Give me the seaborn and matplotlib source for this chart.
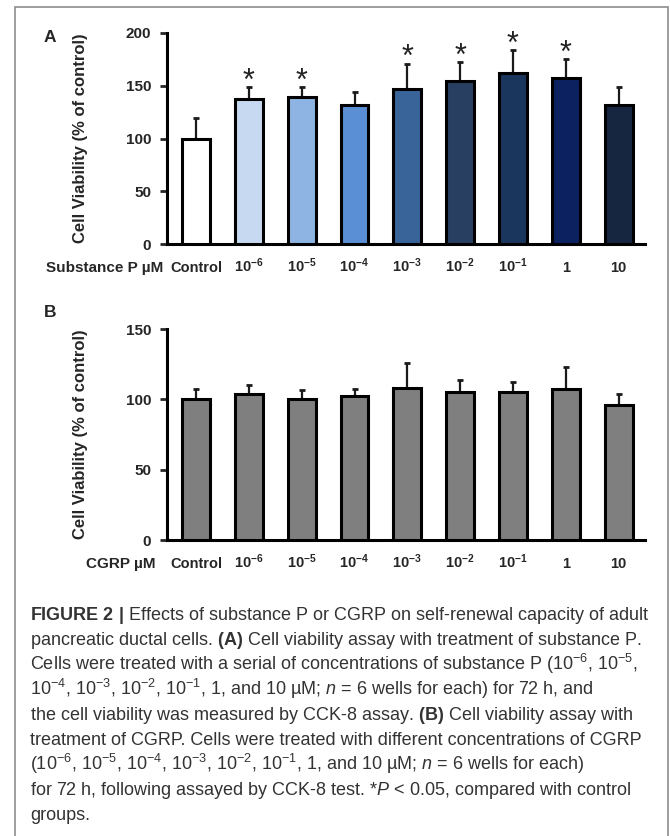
import numpy as np
import pandas as pd
import matplotlib
matplotlib.use("Agg")
import matplotlib.pyplot as plt
import matplotlib.transforms as mtransforms
from matplotlib.patches import Rectangle
import seaborn as sns

# ── Data ───────────────────────────────────────────────────────
doses = ["Control", "1e-6", "1e-5", "1e-4", "1e-3", "1e-2", "1e-1", "1", "10"]
dose_labels = ["Control", r"10$^{\mathbf{-6}}$", r"10$^{\mathbf{-5}}$", r"10$^{\mathbf{-4}}$",
               r"10$^{\mathbf{-3}}$", r"10$^{\mathbf{-2}}$", r"10$^{\mathbf{-1}}$", "1", "10"]

sp_mean = [100, 137, 139, 132, 146.5, 154.5, 162, 157.5, 132]
sp_sd   = [19, 12, 10, 12.5, 24.5, 18, 22, 18, 17]
sp_sig  = [False, True, True, False, True, True, True, True, False]
sp_colors = ["#ffffff", "#c6d9f0", "#8db4e2", "#5a8fd6", "#38649a",
             "#283f62", "#1b365d", "#0c2160", "#172640"]

cgrp_mean = [100, 103.5, 100.5, 102.5, 108, 105, 105.5, 107, 96]
cgrp_sd   = [7, 6.5, 6, 4.5, 17.5, 8.5, 7, 16, 8]
cgrp_colors = ["#7f7f7f"] * len(doses)

caption_lines = [
    r"$\mathbf{FIGURE\ 2\ |}$ Effects of substance P or CGRP on self-renewal capacity of adult",
    r"pancreatic ductal cells. $\mathbf{(A)}$ Cell viability assay with treatment of substance P.",
    r"Cells were treated with a serial of concentrations of substance P (10$^{-6}$, 10$^{-5}$,",
    r"10$^{-4}$, 10$^{-3}$, 10$^{-2}$, 10$^{-1}$, 1, and 10 µM; $n$ = 6 wells for each) for 72 h, and",
    r"the cell viability was measured by CCK-8 assay. $\mathbf{(B)}$ Cell viability assay with",
    r"treatment of CGRP. Cells were treated with different concentrations of CGRP",
    r"(10$^{-6}$, 10$^{-5}$, 10$^{-4}$, 10$^{-3}$, 10$^{-2}$, 10$^{-1}$, 1, and 10 µM; $n$ = 6 wells for each)",
    r"for 72 h, following assayed by CCK-8 test. *$P$ < 0.05, compared with control",
    r"groups.",
]

# ── Style ──────────────────────────────────────────────────────
sns.set_theme(style="white")
plt.rcParams.update({
    "font.family": ["Liberation Sans", "DejaVu Sans"],
    "mathtext.fontset": "custom",
    "mathtext.rm": "Liberation Sans",
    "mathtext.it": "Liberation Sans:italic",
    "mathtext.bf": "Liberation Sans:bold",
    "axes.edgecolor": "black",
})

W, H = 670, 836
fig = plt.figure(figsize=(W / 100, H / 100), dpi=100)
fig.patch.set_facecolor("white")


def px_axes(left, top, right, bottom):
    return fig.add_axes([left / W, 1 - bottom / H, (right - left) / W, (bottom - top) / H])


def panel(ax, mean, sd, colors, ymax, unit_label, unit_right):
    df = pd.DataFrame({"dose": doses, "viability": mean})
    sns.barplot(data=df, x="dose", y="viability", hue="dose", order=doses,
                palette=colors, saturation=1, legend=False, errorbar=None, width=0.53,
                edgecolor="black", linewidth=2.2, ax=ax, zorder=3)
    centers = [p.get_x() + p.get_width() / 2 for p in ax.patches]
    ax.errorbar(centers, mean, yerr=[np.zeros(len(sd)), sd], fmt="none",
                ecolor="#1a1a1a", elinewidth=1.6, capsize=2.5, capthick=2, zorder=2)
    ax.set_xlim(-0.55, 8.5)
    ax.set_ylim(0, ymax)
    ax.set_yticks(np.arange(0, ymax + 1, 50))
    ax.set_xticks(range(len(doses)))
    ax.set_xticklabels(dose_labels, fontsize=10.5, fontweight="bold")
    for lbl in ax.get_xticklabels():
        lbl.set_va("baseline")
    ax.tick_params(axis="x", length=0, pad=20)
    ax.tick_params(axis="y", direction="out", length=5, width=2, pad=6.5,
                   labelsize=11, left=True)
    for lbl in ax.get_yticklabels():
        lbl.set_fontweight("bold")
    for s in ["top", "right"]:
        ax.spines[s].set_visible(False)
    for s in ["left", "bottom"]:
        ax.spines[s].set_linewidth(2.2)
        ax.spines[s].set_color("black")
    ax.set_xlabel("")
    ax.set_ylabel("Cell Viability (% of control)", fontsize=12, fontweight="bold")
    ax.yaxis.set_label_coords(-0.165, 0.5)
    tr = mtransforms.offset_copy(ax.transAxes, fig=fig, y=-20, units="points")
    ax.text((unit_right - 167) / 478, 0, unit_label, transform=tr, ha="right",
            va="baseline", fontsize=11, fontweight="bold")
    ax.set_facecolor("none")
    return centers


# ── Panel A: substance P ──────────────────────────────────────
ax_a = px_axes(167, 33, 645, 244)
centers = panel(ax_a, sp_mean, sp_sd, sp_colors, 200, "Substance P µM", 163)
for xc, m, s, sig in zip(centers, sp_mean, sp_sd, sp_sig):
    if sig:
        ax_a.annotate("*", (xc, m + s), xytext=(0, -2), textcoords="offset points",
                      ha="center", va="baseline", fontsize=22, color="#222222")

# ── Panel B: CGRP ─────────────────────────────────────────────
ax_b = px_axes(167, 329, 645, 540)
panel(ax_b, cgrp_mean, cgrp_sd, cgrp_colors, 150, "CGRP µM", 156)

# panel letters
fig.text(44 / W, 1 - 42 / H, "A", fontsize=12.5, fontweight="bold", va="baseline")
fig.text(44 / W, 1 - 317 / H, "B", fontsize=12.5, fontweight="bold", va="baseline")

# ── Caption ───────────────────────────────────────────────────
for i, line in enumerate(caption_lines):
    fig.text(30 / W, 1 - (620 + 25 * i) / H, line, fontsize=13, color="#333333",
             va="baseline", ha="left")

# outer frame
fig.add_artist(Rectangle((15 / W, -0.02), (668 - 15) / W, (836 - 7) / H + 0.02,
                         transform=fig.transFigure, fill=False,
                         edgecolor="#8c8c8c", linewidth=1.2))

plt.savefig("out.png", dpi=100)
plt.close()
